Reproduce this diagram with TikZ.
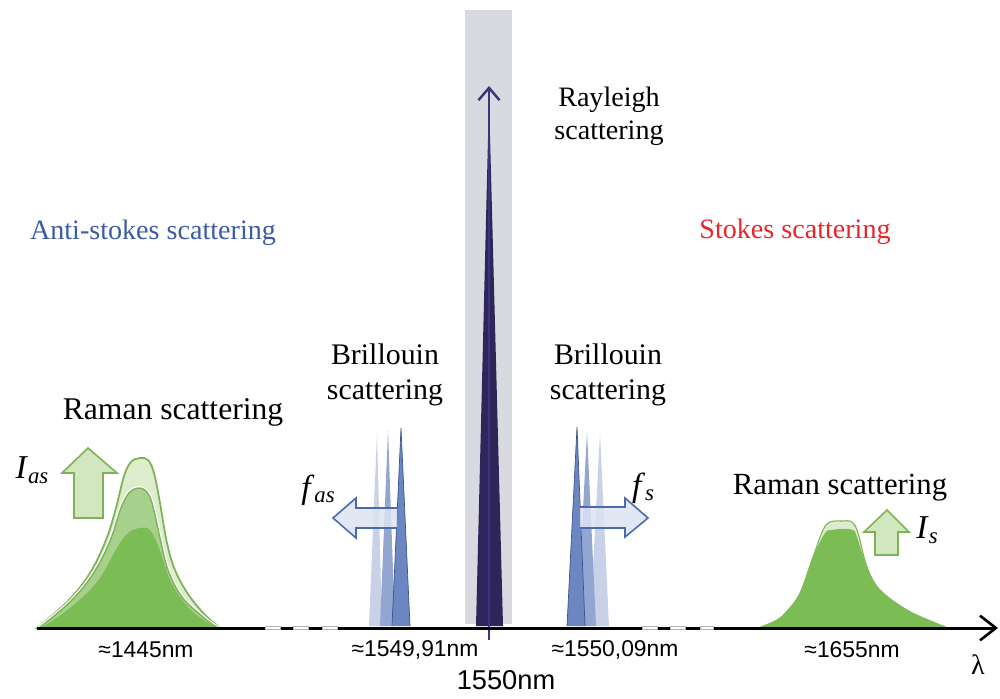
\documentclass[tikz,border=0pt]{standalone}
\usepackage{fontspec}
\setmainfont{Liberation Serif}
\newfontfamily\arialf{Liberation Sans}
\usetikzlibrary{arrows.meta}
\definecolor{antiblue}{HTML}{3B5BA5}
\definecolor{stokesred}{HTML}{E8262A}
\definecolor{bandgray}{HTML}{D9DADF}
\definecolor{rayleighdark}{HTML}{2E2658}
\definecolor{rayleighline}{HTML}{3A3580}
\definecolor{brilA}{HTML}{6B86C0}
\definecolor{brilB}{HTML}{93A6D1}
\definecolor{brilC}{HTML}{C8D1E8}
\definecolor{fatfill}{HTML}{DCE3F1}
\definecolor{fatline}{HTML}{4A6AB0}
\definecolor{gOuter}{HTML}{DDECCD}
\definecolor{gMid}{HTML}{A8D08D}
\definecolor{gInner}{HTML}{7BBC55}
\definecolor{gLine}{HTML}{7CB356}
\definecolor{upfill}{HTML}{D2E6BF}
\newcommand{\itsub}[2]{\textit{#1}\raisebox{-0.3ex}{\fontsize{13}{15}\selectfont\textit{#2}}}
\tikzset{
  lbl/.style={font=\fontsize{17}{20}\selectfont, align=center, text=black},
  num/.style={font=\arialf\fontsize{13}{15}\selectfont, text=black},
  fatarrow/.style={draw=fatline, line width=0.9pt, fill=fatfill, fill opacity=0.85},
  uparrow/.style={draw=gLine, line width=0.9pt, fill=upfill},
  brk/.style={fill=white, draw=gray!60, line width=0.2pt}
}
\begin{document}
\begin{tikzpicture}[x=0.02cm,y=0.02cm]
\useasboundingbox (0,0) rectangle (1000,698);
% Rayleigh band and peak
\fill[bandgray] (465,74) rectangle (512,688);
\fill[rayleighdark] (476,72) -- (489,600) -- (503,72) -- cycle;
\coordinate (rbot) at (489,58);
\coordinate (rtop) at (489,612);
\draw[rayleighline, line width=1.4pt, -{Straight Barb[length=7pt,width=12pt,line width=1.4pt]}] (rbot) -- (rtop);
% Brillouin left
\fill[brilC] (369,72) -- (377,265) -- (382,72) -- cycle;
\fill[brilB] (380,72) -- (388,268) -- (395,72) -- cycle;
\fill[brilA] (392,72) -- (401,270) -- (410,72) -- cycle;
\draw[fatline!80!black, line width=0.4pt] (392,72) -- (401,270) -- (410,72);
% Brillouin right
\fill[brilC] (590,72) -- (600,265) -- (609,72) -- cycle;
\fill[brilB] (577,72) -- (587,266) -- (596,72) -- cycle;
\fill[brilA] (567,72) -- (577,271) -- (585,72) -- cycle;
\draw[fatline!80!black, line width=0.4pt] (567,72) -- (577,271) -- (585,72);
% fat arrows
\draw[fatarrow] (397,190) -- (356,190) -- (356,200) -- (333,180) -- (356,160) -- (356,170) -- (397,170);
\draw[fatarrow] (580,191) -- (625,191) -- (625,200) -- (648,180) -- (625,161) -- (625,170) -- (580,170);
% Raman left
\filldraw[fill=gOuter, draw=gLine, line width=1pt] plot[smooth, tension=0.6] coordinates {(37,70) (68,97) (90,125) (106,158) (116,190) (124,222) (131,236) (140,240) (148,238) (154,225) (160,195) (167,155) (175,128) (188,104) (205,83) (218,72) (222,70)} -- cycle;
\draw[white, line width=2.2pt] plot[smooth, tension=0.6] coordinates {(39,70) (70,96) (93,124) (110,157) (121,190) (129,205) (138,210) (146,207) (152,195) (160,160) (168,128) (182,101) (203,81) (215,72) (220,70)};
\filldraw[fill=gMid, draw=gLine, line width=0.8pt] plot[smooth, tension=0.6] coordinates {(39,70) (70,96) (93,124) (110,157) (121,190) (129,205) (138,210) (146,207) (152,195) (160,160) (168,128) (182,101) (203,81) (215,72) (220,70)} -- cycle;
\fill[gInner] plot[smooth, tension=0.6] coordinates {(41,70) (70,90) (97,116) (117,150) (128,165) (140,170) (150,168) (159,150) (171,116) (188,91) (205,77) (218,70)} -- cycle;
% Raman right
\filldraw[fill=gOuter, draw=gLine, line width=0.6pt] plot[smooth, tension=0.6] coordinates {(758,70) (777,78) (788,88) (800,105) (813,141) (823,168) (830,176) (842,177) (852,176) (858,165) (867,131) (880,108) (907,88) (933,76) (948,70)} -- cycle;
\fill[gInner] plot[smooth, tension=0.6] coordinates {(758,70) (777,78) (788,88) (800,105) (813,141) (825,165) (832,168) (842,169) (853,168) (857,161) (867,131) (880,108) (907,88) (933,76) (948,70)} -- cycle;
% up arrows
\draw[uparrow] (74,180) -- (74,225) -- (62,225) -- (88,250) -- (117,225) -- (103,225) -- (103,180) -- cycle;
\draw[uparrow] (875,143) -- (875,166) -- (864,166) -- (887,188) -- (909,166) -- (898,166) -- (898,143) -- cycle;
% axis
\coordinate (axs) at (37,70);
\coordinate (axe) at (998,70);
\draw[black, line width=1.7pt, -{Straight Barb[length=9pt,width=14pt,line width=1.5pt]}] (axs) -- (axe);
\foreach \a/\b in {265/280, 293/308, 322/337, 642/657, 670/685, 700/713}
  \draw[brk] (\a,68.6) rectangle (\b,71.4);
% texts
\node[lbl, text=antiblue, font=\fontsize{16}{19}\selectfont] (anti) at (153,465) {Anti-stokes scattering};
\node[lbl, text=stokesred, font=\fontsize{16}{19}\selectfont] (stokes) at (795,466) {Stokes scattering};
\node[lbl, font=\fontsize{16}{19}\selectfont] (ray) at (609,582) {Rayleigh\\scattering};
\node[lbl] (brL) at (385,323) {Brillouin\\scattering};
\node[lbl] (brR) at (608,323) {Brillouin\\scattering};
\node[lbl, font=\fontsize{18}{21}\selectfont] (ramL) at (173,286) {Raman scattering};
\node[lbl, font=\fontsize{17.5}{21}\selectfont] (ramR) at (840,210) {Raman scattering};
\node[lbl, font=\fontsize{19}{21}\selectfont] (Ias) at (32,228) {\itsub{I}{as}};
\node[lbl, font=\fontsize{19}{21}\selectfont] (Is) at (927,168) {\itsub{I}{s}};
\node[lbl, font=\fontsize{19}{21}\selectfont] (fas) at (318,208) {\itsub{f}{as}};
\node[lbl, font=\fontsize{19}{21}\selectfont] (fs) at (643,210) {\itsub{f}{s}};
\node[num] (n1445) at (146,48) {≈1445nm};
\node[num] (n154991) at (415,48) {≈1549,91nm};
\node[num] (n155009) at (615,48) {≈1550,09nm};
\node[num] (n1655) at (852,48) {≈1655nm};
\node[num, font=\arialf\fontsize{15.5}{18}\selectfont] (n1550) at (506,18) {1550nm};
\node[lbl, font=\fontsize{16}{19}\selectfont] (lam) at (978,33) {λ};
\end{tikzpicture}
\end{document}
